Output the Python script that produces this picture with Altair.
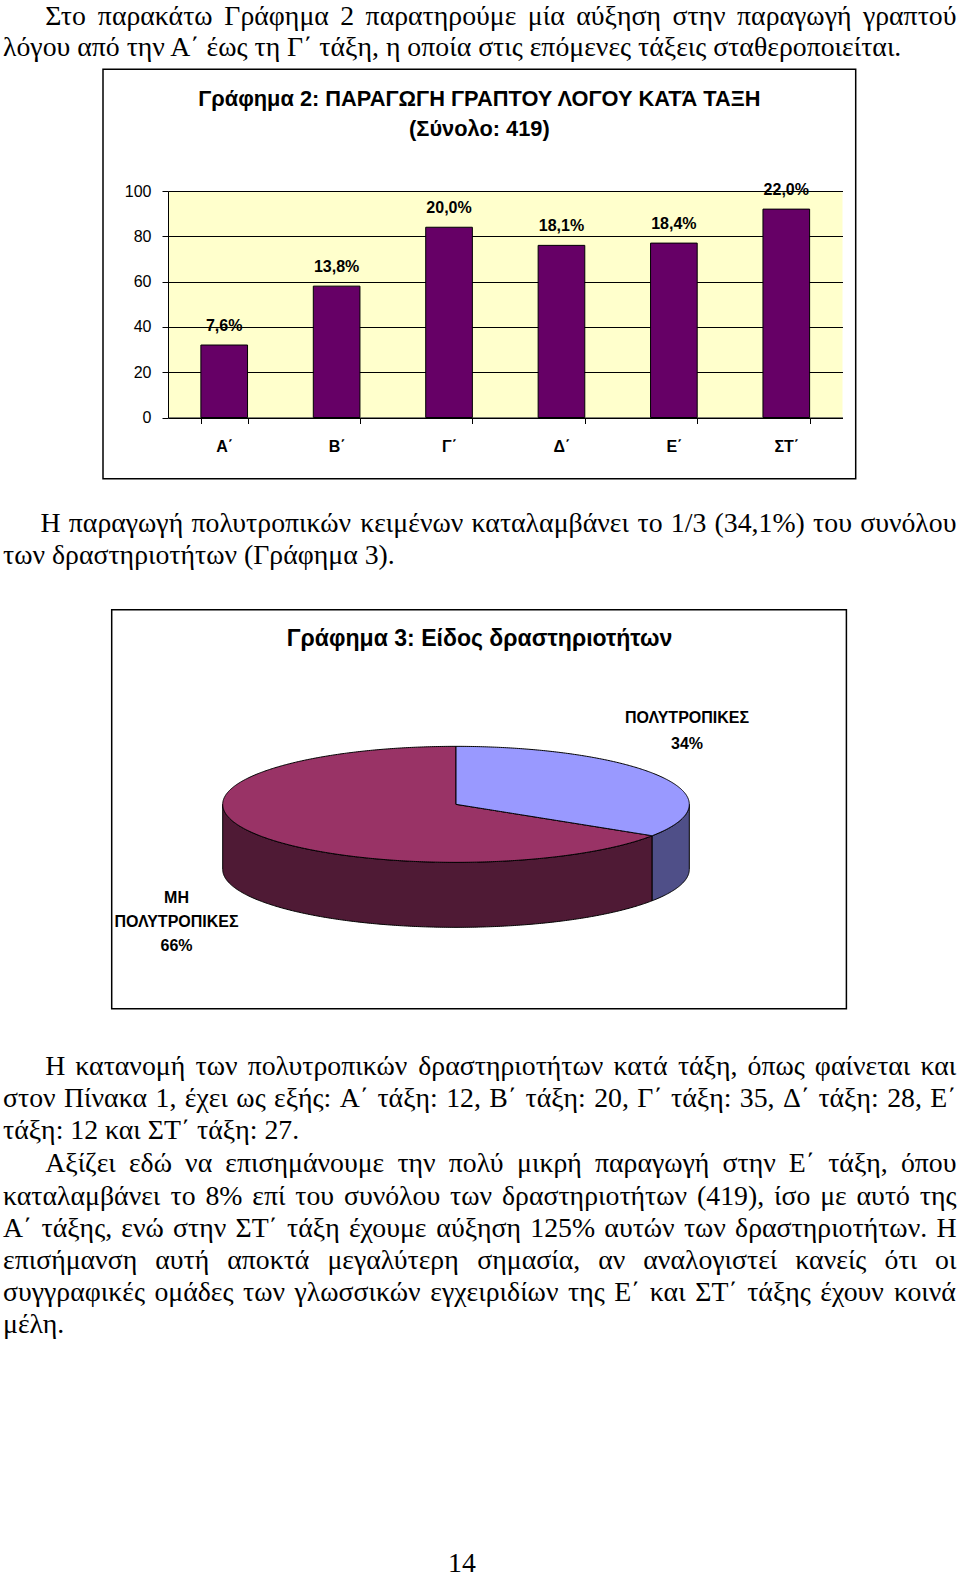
import glob
import os
import struct

import numpy as np
import pandas as pd
import altair as alt

SERIF = "Liberation Serif"
SANS = "Liberation Sans"

# ---------------- data ----------------
classes = ["Α΄", "Β΄", "Γ΄", "Δ΄", "Ε΄", "ΣΤ΄"]
counts = [32, 58, 84, 76, 77, 92]
y_ticks = [0, 20, 40, 60, 80, 100]
bar_title = ["Γράφημα 2: ΠΑΡΑΓΩΓΗ ΓΡΑΠΤΟΥ ΛΟΓΟΥ ΚΑΤΆ ΤΑΞΗ", "(Σύνολο: 419)"]

pie_names = ["ΠΟΛΥΤΡΟΠΙΚΕΣ", "ΜΗ ΠΟΛΥΤΡΟΠΙΚΕΣ"]
pie_shares = [34.1, 65.9]
pie_title = "Γράφημα 3: Είδος δραστηριοτήτων"

para1 = [
    "Στο παρακάτω Γράφημα 2 παρατηρούμε μία αύξηση στην παραγωγή γραπτού",
    "λόγου από την Α΄ έως τη Γ΄ τάξη, η οποία στις επόμενες τάξεις σταθεροποιείται.",
]
para2 = [
    "Η παραγωγή πολυτροπικών κειμένων καταλαμβάνει το 1/3 (34,1%) του συνόλου",
    "των δραστηριοτήτων (Γράφημα 3).",
]
para3 = [
    "Η κατανομή των πολυτροπικών δραστηριοτήτων κατά τάξη, όπως φαίνεται και",
    "στον Πίνακα 1, έχει ως εξής: Α΄ τάξη: 12, Β΄ τάξη: 20, Γ΄ τάξη: 35, Δ΄ τάξη: 28, Ε΄",
    "τάξη: 12 και ΣΤ΄ τάξη: 27.",
]
para4 = [
    "Αξίζει εδώ να επισημάνουμε την πολύ μικρή παραγωγή στην Ε΄ τάξη, όπου",
    "καταλαμβάνει το 8% επί του συνόλου των δραστηριοτήτων (419), ίσο με αυτό της",
    "Α΄ τάξης, ενώ στην ΣΤ΄ τάξη έχουμε αύξηση 125% αυτών των δραστηριοτήτων. Η",
    "επισήμανση αυτή αποκτά μεγαλύτερη σημασία, αν αναλογιστεί κανείς ότι οι",
    "συγγραφικές ομάδες των γλωσσικών εγχειριδίων της Ε΄ και ΣΤ΄ τάξης έχουν κοινά",
    "μέλη.",
]
page_number = "14"


# ---------------- font metrics (for justified text) ----------------
class FontMetrics:
    def __init__(self, path):
        with open(path, "rb") as fh:
            data = fh.read()
        self.data = data
        num = struct.unpack(">H", data[4:6])[0]
        tables = {}
        for i in range(num):
            rec = data[12 + 16 * i: 28 + 16 * i]
            tag = rec[:4].decode("latin1")
            off = struct.unpack(">I", rec[8:12])[0]
            tables[tag] = off
        head = tables["head"]
        self.upem = struct.unpack(">H", data[head + 18: head + 20])[0]
        hhea = tables["hhea"]
        nh = struct.unpack(">H", data[hhea + 34: hhea + 36])[0]
        hm = tables["hmtx"]
        self.adv = [struct.unpack(">H", data[hm + 4 * i: hm + 4 * i + 2])[0] for i in range(nh)]
        cm = tables["cmap"]
        ntab = struct.unpack(">H", data[cm + 2: cm + 4])[0]
        best = None
        for i in range(ntab):
            pid, eid, off = struct.unpack(">HHI", data[cm + 4 + 8 * i: cm + 12 + 8 * i])
            fmt = struct.unpack(">H", data[cm + off: cm + off + 2])[0]
            if fmt == 4 and (pid, eid) in [(3, 1), (0, 3), (0, 4), (0, 1), (0, 0)]:
                best = cm + off
                break
        p = best
        segx2 = struct.unpack(">H", data[p + 6: p + 8])[0]
        seg = segx2 // 2
        self.ends = struct.unpack(">%dH" % seg, data[p + 14: p + 14 + segx2])
        self.starts = struct.unpack(">%dH" % seg, data[p + 16 + segx2: p + 16 + 2 * segx2])
        self.deltas = struct.unpack(">%dh" % seg, data[p + 16 + 2 * segx2: p + 16 + 3 * segx2])
        self.ro_pos = p + 16 + 3 * segx2
        self.ros = struct.unpack(">%dH" % seg, data[self.ro_pos: self.ro_pos + segx2])

    def gid(self, c):
        for i in range(len(self.ends)):
            if self.ends[i] >= c:
                if self.starts[i] > c:
                    return 0
                if self.ros[i] == 0:
                    return (c + self.deltas[i]) & 0xFFFF
                addr = self.ro_pos + 2 * i + self.ros[i] + 2 * (c - self.starts[i])
                g = struct.unpack(">H", self.data[addr: addr + 2])[0]
                return (g + self.deltas[i]) & 0xFFFF if g else 0
        return 0

    def width(self, s, size):
        tot = 0
        for ch in s:
            g = self.gid(ord(ch))
            tot += self.adv[g] if g < len(self.adv) else self.adv[-1]
        return tot * size / self.upem


def load_metrics(fname):
    try:
        for base in ["/usr/share/fonts", "/usr/local/share/fonts",
                     os.path.expanduser("~/.fonts"), os.path.expanduser("~/.local/share/fonts")]:
            hits = glob.glob(os.path.join(base, "**", fname), recursive=True)
            if hits:
                m = FontMetrics(hits[0])
                if m.width("Α", 10) > 0:
                    return m
    except Exception:
        return None
    return None


SERIF_M = load_metrics("LiberationSerif-Regular.ttf")
SANSB_M = load_metrics("LiberationSans-Bold.ttf")
NARROWB_M = load_metrics("LiberationSansNarrow-Bold.ttf")

# ---------------- layout constants ----------------
PAGE_W = 960
PAGE_H = 1577
LEFT = 3.0
RIGHT = 956.5
INDENT = 45.2

if SERIF_M is not None:
    calib = [(para1[1], 901.7 - LEFT), (para2[1], 395.0 - LEFT), (para3[2], 299.5 - LEFT)]
    BODY_SIZE = float(np.clip(np.median([t / SERIF_M.width(s, 1.0) for s, t in calib]), 20, 30))
else:
    BODY_SIZE = 25.5

# chart titles: condensed bold sans if available (the reference titles look narrow)
if NARROWB_M is not None:
    TITLE_FONT = "Liberation Sans Narrow"
    BAR_TITLE_SIZE = float(np.clip(572.0 / NARROWB_M.width(bar_title[0], 1.0), 14, 26))
    PIE_TITLE_SIZE = float(np.clip(387.0 / NARROWB_M.width(pie_title, 1.0), 14, 28))
elif SANSB_M is not None:
    TITLE_FONT = SANS
    BAR_TITLE_SIZE = float(np.clip(572.0 / SANSB_M.width(bar_title[0], 1.0), 14, 24))
    PIE_TITLE_SIZE = float(np.clip(387.0 / SANSB_M.width(pie_title, 1.0), 14, 26))
else:
    TITLE_FONT = SANS
    BAR_TITLE_SIZE = 18
    PIE_TITLE_SIZE = 20

FSW = 1.5  # frame stroke width
BAR_FRAME = (102.3, 68.35, 855.0, 477.7)
BAR_VIEW = (167.3, 190.0, 841.8, 416.5)
PIE_FRAME = (111.7, 607.4, 846.4, 1006.5)

R1 = (0.0, BAR_FRAME[1] - FSW / 2)
R3 = (BAR_FRAME[3] + FSW / 2, PIE_FRAME[1] - FSW / 2)
R4 = (PIE_FRAME[1] - FSW / 2, PIE_FRAME[3] + FSW / 2)
R5 = (R4[1], PAGE_H)


def line_items(line, x0, y, justify):
    if not justify or SERIF_M is None:
        return [dict(x=x0, y=y, t=line)]
    words = line.split(" ")
    ws = [SERIF_M.width(w, BODY_SIZE) for w in words]
    gap = (RIGHT - x0 - sum(ws)) / max(len(words) - 1, 1)
    gap = max(gap, 0.2 * BODY_SIZE)
    out = []
    x = x0
    for w, wd in zip(words, ws):
        out.append(dict(x=x, y=y, t=w))
        x += wd + gap
    return out


def para_items(lines, ys, indent):
    items = []
    for k, (ln, y) in enumerate(zip(lines, ys)):
        x0 = indent if k == 0 else LEFT
        items += line_items(ln, x0, y, justify=(k < len(lines) - 1))
    return items


def xs_page():
    return alt.X("x:Q", scale=alt.Scale(domain=[0, PAGE_W], nice=False, zero=False), axis=None)


def ys_page(rng):
    return alt.Y("y:Q", scale=alt.Scale(domain=[rng[0], rng[1]], reverse=True, nice=False, zero=False),
                 axis=None)


def text_row(rng, items, extra=None):
    base = alt.Chart(pd.DataFrame(items)).mark_text(
        align="left", baseline="middle", font=SERIF, fontSize=BODY_SIZE, color="black"
    ).encode(x=xs_page(), y=ys_page(rng), text="t:N")
    layers = [base] + (extra or [])
    return alt.layer(*layers).properties(width=PAGE_W, height=rng[1] - rng[0])


# ---------------- row 1: text ----------------
row1 = text_row(R1, para_items(para1, [17.1, 48.3], INDENT))

# ---------------- row 2: bar chart ----------------
total = sum(counts)
pct_labels = [f"{c / total * 100:.1f}%".replace(".", ",") for c in counts]
bar_df = pd.DataFrame({"cls": classes, "n": counts, "lab": pct_labels})
one = pd.DataFrame({"a": [0]})

vx0, vy0, vx1, vy1 = BAR_VIEW
x_enc = alt.X("cls:N", sort=classes,
              scale=alt.Scale(paddingInner=0.585, paddingOuter=0.2925),
              axis=alt.Axis(title=None, labelAngle=0, labelFont=SANS, labelFontSize=16,
                            labelFontWeight="bold", labelColor="black", labelPadding=15,
                            tickBand="extent", tickColor="black", tickSize=6, tickWidth=1,
                            domainColor="black", domainWidth=1))
y_enc = alt.Y("n:Q", scale=alt.Scale(domain=[0, 100], nice=False),
              axis=alt.Axis(title=None, values=y_ticks, labelFont=SANS, labelFontSize=16,
                            labelColor="black", labelPadding=11, tickColor="black", tickSize=6,
                            tickWidth=1, domainColor="black", domainWidth=1,
                            gridColor="black", gridWidth=1, gridOpacity=1))

frame = alt.Chart(one).mark_rect(fillOpacity=0, stroke="black", strokeWidth=FSW).encode(
    x=alt.value(BAR_FRAME[0] - vx0), x2=alt.value(BAR_FRAME[2] - vx0),
    y=alt.value(BAR_FRAME[1] - vy0), y2=alt.value(BAR_FRAME[3] - vy0))
bars = alt.Chart(bar_df).mark_bar(color="#660066", stroke="black", strokeWidth=1).encode(
    x=x_enc, y=y_enc)
vlabels = alt.Chart(bar_df).mark_text(dy=-19, baseline="middle", font=SANS, fontSize=16,
                                      fontWeight="bold", color="black").encode(
    x=alt.X("cls:N", sort=classes), y="n:Q", text="lab:N")
title_cx = (BAR_FRAME[0] + BAR_FRAME[2]) / 2 - vx0
title_layers = [
    alt.Chart(one).mark_text(align="center", baseline="middle", font=TITLE_FONT,
                             fontSize=BAR_TITLE_SIZE, fontWeight="bold", color="black").encode(
        x=alt.value(title_cx), y=alt.value(ty - vy0), text=alt.value(t))
    for t, ty in zip(bar_title, [97.6, 127.9])
]
bar_chart = alt.layer(frame, bars, vlabels, *title_layers).properties(
    width=vx1 - vx0, height=vy1 - vy0,
    view=alt.ViewBackground(fill="#FFFFCC", strokeWidth=0))

spacer = alt.Chart(one).mark_rect(opacity=0).encode(
    x=alt.value(0), x2=alt.value(BAR_FRAME[0] - FSW / 2), y=alt.value(0), y2=alt.value(1)
).properties(width=BAR_FRAME[0] - FSW / 2, height=1)
row2 = alt.hconcat(spacer, bar_chart, spacing=0)

# ---------------- row 3: text ----------------
row3 = text_row(R3, para_items(para2, [522.0, 554.1], 40.5))

# ---------------- row 4: 3-D pie ----------------
PCX, PCY, PA, PB, DEPTH = 456.0, 802.0, 233.3, 58.0, 65.0
th1 = 2 * np.pi * pie_shares[0] / sum(pie_shares)
xP = PCX + PA * np.sin(th1)
yP = PCY - PB * np.cos(th1)


def half_h(x):
    u = (x - PCX) / PA
    return PB * np.sqrt(np.clip(1 - u * u, 0, 1))


def chord(x):
    return PCY + (x - PCX) / (xP - PCX) * (yP - PCY)


xs_all = PCX + PA * np.sin(np.linspace(-np.pi / 2, np.pi / 2, 361))

# top face of first slice (clockwise from 12 o'clock)
xb = sorted(set([float(v) for v in xs_all if v >= PCX]) | {PCX, float(xP)})
top1 = [dict(x=x, y=PCY - half_h(x), y2=(chord(x) if x <= xP else PCY + half_h(x)))
        for x in xb]
# top face of second slice
xm = sorted(set([float(v) for v in xs_all if v <= xP]) | {PCX, float(xP)})
top2 = []
for x in xm:
    if x < PCX:
        top2.append(dict(x=x, y=PCY - half_h(x), y2=PCY + half_h(x)))
    elif x == PCX:
        top2.append(dict(x=x, y=PCY - PB, y2=PCY + PB))
        top2.append(dict(x=x, y=PCY, y2=PCY + PB))
    else:
        top2.append(dict(x=x, y=chord(x), y2=PCY + half_h(x)))
side1 = [dict(x=x, y=PCY + half_h(x), y2=PCY + half_h(x) + DEPTH)
         for x in sorted(set([float(v) for v in xs_all if v >= xP]) | {float(xP)})]
side2 = [dict(x=x, y=PCY + half_h(x), y2=PCY + half_h(x) + DEPTH)
         for x in sorted(set([float(v) for v in xs_all if v <= xP]) | {float(xP)})]


def area_layer(rows, fill):
    return alt.Chart(pd.DataFrame(rows)).mark_area(
        orient="vertical", fill=fill, stroke="black", strokeWidth=1, strokeJoin="round",
        opacity=1
    ).encode(x=xs_page(), y=ys_page(R4), y2="y2:Q")


pie_frame = alt.Chart(pd.DataFrame([dict(x=PIE_FRAME[0], x2=PIE_FRAME[2], y=PIE_FRAME[1],
                                         y2=PIE_FRAME[3])])).mark_rect(
    fillOpacity=0, stroke="black", strokeWidth=FSW).encode(
    x=xs_page(), x2="x2:Q", y=ys_page(R4), y2="y2:Q")

label_anchor = [(687.0, 716.0, 25.7), (176.5, 896.0, 24.0)]
lab_rows = []
for name, share, (lx, ly, lh) in zip(pie_names, pie_shares, label_anchor):
    lines = name.split(" ") + [f"{round(share)}%"]
    for k, ln in enumerate(lines):
        lab_rows.append(dict(x=lx, y=ly + k * lh, t=ln))
pie_labels = alt.Chart(pd.DataFrame(lab_rows)).mark_text(
    align="center", baseline="middle", font=SANS, fontSize=16, fontWeight="bold", color="black"
).encode(x=xs_page(), y=ys_page(R4), text="t:N")
pie_title_l = alt.Chart(pd.DataFrame([dict(x=479.5, y=636.6, t=pie_title)])).mark_text(
    align="center", baseline="middle", font=TITLE_FONT, fontSize=PIE_TITLE_SIZE,
    fontWeight="bold", color="black").encode(x=xs_page(), y=ys_page(R4), text="t:N")

row4 = alt.layer(
    pie_frame,
    area_layer(side2, "#4F1A35"),
    area_layer(side1, "#4F4F88"),
    area_layer(top2, "#993366"),
    area_layer(top1, "#9999FF"),
    pie_title_l, pie_labels,
).properties(width=PAGE_W, height=R4[1] - R4[0])

# ---------------- row 5: text + page number ----------------
ys3 = [1064.0, 1096.2, 1128.4]
ys4 = [1161.6, 1193.8, 1226.0, 1258.1, 1290.3, 1322.5]
items5 = para_items(para3, ys3, INDENT) + para_items(para4, ys4, INDENT)
pn = alt.Chart(pd.DataFrame([dict(x=462.0, y=1561.5, t=page_number)])).mark_text(
    align="center", baseline="middle", font=SERIF, fontSize=BODY_SIZE, color="black"
).encode(x=xs_page(), y=ys_page(R5), text="t:N")
row5 = text_row(R5, items5, extra=[pn])

chart = alt.vconcat(row1, row2, row3, row4, row5, spacing=0).properties(
    padding=0, background="white"
).configure_view(strokeWidth=0)

chart.save("out.html", embed_options={"renderer": "svg", "actions": False})
